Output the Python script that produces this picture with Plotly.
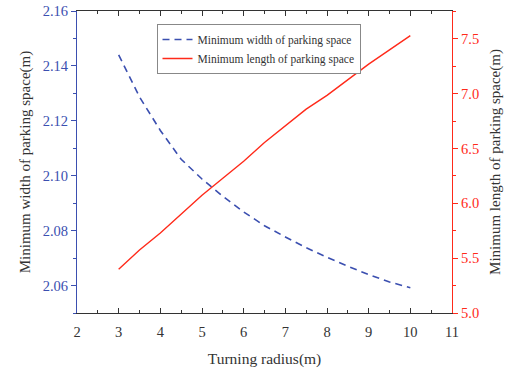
import plotly.graph_objects as go

radius = [3.0, 3.5, 4.0, 4.5, 5.0, 5.5, 6.0, 6.5, 7.0, 7.5, 8.0, 8.5, 9.0, 9.5, 10.0]
min_width = [2.1440, 2.1287, 2.1165, 2.1060, 2.0988, 2.0925, 2.0868, 2.0818,
             2.0777, 2.0738, 2.0703, 2.0670, 2.0640, 2.0613, 2.0592]
min_length = [5.40, 5.575, 5.73, 5.90, 6.075, 6.23, 6.385, 6.555, 6.71, 6.86,
              6.985, 7.13, 7.27, 7.40, 7.53]

BLUE = "#3b4fb0"
RED = "#ff2a1a"
GREY = "#333333"
FONT = "Liberation Serif"

fig = go.Figure()
fig.add_trace(go.Scatter(x=radius, y=min_width, mode="lines",
                         name="Minimum width of parking space",
                         line=dict(color=BLUE, width=1.6, dash="7px,5px")))
fig.add_trace(go.Scatter(x=radius, y=min_length, mode="lines",
                         name="Minimum length of parking space",
                         line=dict(color=RED, width=1.4), yaxis="y2"))

fig.update_layout(
    width=506, height=374,
    margin=dict(l=77, r=54, t=11, b=61, autoexpand=False),
    paper_bgcolor="white", plot_bgcolor="white",
    font=dict(family=FONT, size=14, color=GREY),
    showlegend=True,
    legend=dict(x=0.212, y=0.957, xanchor="left", yanchor="top",
                bgcolor="white", bordercolor="#888888", borderwidth=1,
                font=dict(family=FONT, size=11.5, color=GREY),
                tracegroupgap=0, itemwidth=30),
    xaxis=dict(range=[2, 11], tickvals=list(range(2, 12)), automargin=False,
               showgrid=False, zeroline=False,
               showline=True, linecolor=GREY, linewidth=1.2, mirror="ticks",
               ticks="inside", ticklen=5, tickcolor=GREY,
               ticklabelstandoff=5, ticklabeloverflow="allow",
               minor=dict(ticks="inside", ticklen=3, dtick=0.5, tickcolor=GREY),
               tickfont=dict(family=FONT, size=14.5, color=GREY),
               title=dict(text="Turning radius(m)", standoff=14,
                          font=dict(family=FONT, size=15.5, color=GREY))),
    yaxis=dict(range=[2.05, 2.16], tickvals=[2.06, 2.08, 2.10, 2.12, 2.14, 2.16],
               ticktext=["2.06", "2.08", "2.10", "2.12", "2.14", "2.16"],
               automargin=False, ticklabeloverflow="allow",
               showgrid=False, zeroline=False,
               showline=True, linecolor=BLUE, linewidth=1.2,
               ticks="outside", ticklen=5, tickcolor=BLUE,
               minor=dict(ticks="outside", ticklen=3, dtick=0.01, tickcolor=BLUE),
               tickfont=dict(family=FONT, size=14.5, color=BLUE),
               title=dict(text="Minimum width of parking space(m)", standoff=8,
                          font=dict(family=FONT, size=15, color=GREY))),
    yaxis2=dict(range=[5.0, 7.755], overlaying="y", side="right",
                tickvals=[5.0, 5.5, 6.0, 6.5, 7.0, 7.5],
                ticktext=["5.0", "5.5", "6.0", "6.5", "7.0", "7.5"],
                automargin=False, ticklabeloverflow="allow",
                showgrid=False, zeroline=False,
                showline=True, linecolor=RED, linewidth=1.2,
                ticks="outside", ticklen=5, tickcolor=RED,
                minor=dict(ticks="outside", ticklen=3, dtick=0.25, tickcolor=RED),
                tickfont=dict(family=FONT, size=14.5, color=RED),
                title=dict(text="Minimum length of parking space(m)", standoff=11,
                           font=dict(family=FONT, size=15, color=GREY))),
)

fig.write_html("out.html",
               config={"displayModeBar": False},
               post_script="document.body.style.margin='0';")
